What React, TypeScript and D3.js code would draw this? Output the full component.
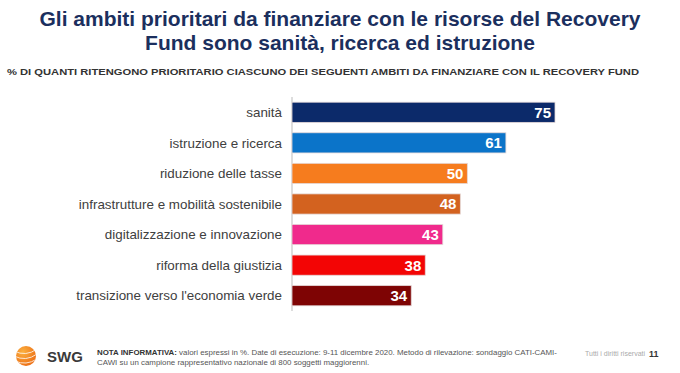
import React from 'react';
import * as d3 from 'd3';

const categories = [
    'sanità',
    'istruzione e ricerca',
    'riduzione delle tasse',
    'infrastrutture e mobilità sostenibile',
    'digitalizzazione e innovazione',
    'riforma della giustizia',
    "transizione verso l'economia verde",
];
const values = [75, 61, 50, 48, 43, 38, 34];
const colors = ['#0c2a6a', '#0b74c9', '#f67c1e', '#d3621f', '#f02a8c', '#f30505', '#7e0404'];

const titleLines = [
    'Gli ambiti prioritari da finanziare con le risorse del Recovery',
    'Fund sono sanità, ricerca ed istruzione',
];
const subtitle = '% DI QUANTI RITENGONO PRIORITARIO CIASCUNO DEI SEGUENTI AMBITI DA FINANZIARE CON IL RECOVERY FUND';

const width = 680;
const height = 373;

export default function App() {
    const x = d3.scaleLinear().domain([0, 75]).range([292, 555]);
    const y = d3.scaleBand().domain(categories).range([97, 311]).paddingInner(0.34).paddingOuter(0.17);

    const font = 'Liberation Sans, Arial, sans-serif';

    return (
        <svg width={width} height={height} style={{position: 'absolute', left: 0, top: 0}} fontFamily={font}>
            <defs>
                <radialGradient id="logo" cx="35%" cy="30%" r="80%">
                    <stop offset="0%" stopColor="#fbb040" />
                    <stop offset="100%" stopColor="#ec6a12" />
                </radialGradient>
                <clipPath id="logoClip">
                    <circle cx={26} cy={356} r={10} />
                </clipPath>
            </defs>
            <rect width={width} height={height} fill="#fff" />

            {titleLines.map((t, i) => (
                <text key={i} x={340} y={26 + i * 24} textAnchor="middle" fontSize={21} fontWeight="bold" fill="#1b2f5e">
                    {t}
                </text>
            ))}
            <text x={7} y={75} fontSize={9.4} fontWeight="bold" fill="#333" textLength={632} lengthAdjust="spacingAndGlyphs">
                {subtitle}
            </text>

            <line x1={x(0)} x2={x(0)} y1={97} y2={311} stroke="#bbb" strokeWidth={1} />

            {categories.map((c, i) => (
                <g key={c}>
                    <rect
                        x={x(0)}
                        y={y(c)}
                        width={x(values[i]) - x(0)}
                        height={y.bandwidth()}
                        fill={colors[i]}
                        stroke="#e4d8d8"
                        strokeWidth={0.8}
                    />
                    <text
                        x={282}
                        y={(y(c) as number) + y.bandwidth() / 2}
                        dy="0.35em"
                        textAnchor="end"
                        fontSize={13.4}
                        fill="#404040"
                    >
                        {c}
                    </text>
                    <text
                        x={x(values[i]) - 4}
                        y={(y(c) as number) + y.bandwidth() / 2}
                        dy="0.36em"
                        textAnchor="end"
                        fontSize={15}
                        fontWeight="bold"
                        fill="#fff"
                    >
                        {values[i]}
                    </text>
                </g>
            ))}

            <circle cx={26} cy={356} r={10} fill="url(#logo)" />
            <g clipPath="url(#logoClip)" stroke="#fff" strokeWidth={1} fill="none" opacity={0.8}>
                <path d="M14,351 Q26,357 37,349" />
                <path d="M14,356 Q26,362 37,354" />
                <path d="M15,361 Q26,366 37,359" />
            </g>
            <text x={47} y={362} fontSize={15} fontWeight="bold" fill="#3a3a3a">SWG</text>

            <text x={97} y={355} fontSize={7.9} fill="#555">
                <tspan fontWeight="bold" fill="#333">NOTA INFORMATIVA:</tspan> valori espressi in %. Date di esecuzione: 9-11 dicembre 2020. Metodo di rilevazione: sondaggio CATI-CAMI-
            </text>
            <text x={97} y={365} fontSize={7.9} fill="#555">
                CAWI su un campione rappresentativo nazionale di 800 soggetti maggiorenni.
            </text>
            <text x={585} y={356} fontSize={7} fill="#aaa">Tutti i diritti riservati</text>
            <text x={649} y={357} fontSize={9} fontWeight="bold" fill="#333">11</text>
        </svg>
    );
}
